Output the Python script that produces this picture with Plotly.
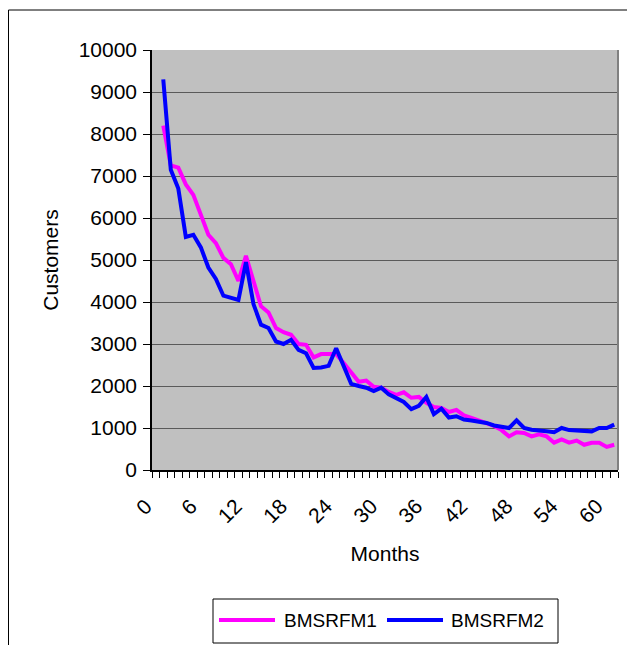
import plotly.graph_objects as go

months = list(range(1, 62))
bmsrfm1 = [8200, 7250, 7200, 6800, 6550, 6100, 5600, 5400, 5050, 4900,
           4500, 5100, 4500, 3900, 3750, 3380, 3280, 3220, 3000, 2980,
           2680, 2760, 2760, 2760, 2550, 2330, 2100, 2130, 1980, 1960,
           1860, 1790, 1850, 1720, 1740, 1600, 1500, 1480, 1380, 1430,
           1300, 1240, 1180, 1130, 1050, 950, 800, 900, 880, 800,
           850, 800, 650, 730, 650, 700, 600, 650, 650, 550,
           600]
bmsrfm2 = [9300, 7150, 6700, 5550, 5600, 5300, 4820, 4550, 4150, 4100,
           4050, 4950, 3950, 3460, 3380, 3060, 3000, 3100, 2860, 2780,
           2430, 2440, 2480, 2900, 2450, 2050, 2000, 1960, 1880, 1960,
           1800, 1700, 1620, 1450, 1530, 1740, 1330, 1460, 1250, 1280,
           1200, 1180, 1150, 1120, 1060, 1020, 1000, 1180, 1000, 960,
           950, 920, 900, 1000, 950, 940, 940, 920, 1000, 1000,
           1080]
series_names = ["BMSRFM1", "BMSRFM2"]
series_colors = ["#FF00FF", "#0000FF"]
n_categories = 62
x_ticks = list(range(0, 61, 6))
y_ticks = list(range(0, 10001, 1000))

FONT = "Liberation Sans, Arial, sans-serif"

fig = go.Figure()
for name, color, vals in zip(series_names, series_colors, [bmsrfm1, bmsrfm2]):
    fig.add_trace(go.Scatter(x=months, y=vals, mode="lines", name=name,
                             line=dict(color=color, width=4), showlegend=False))

# page body has an 8px margin; figure coordinates = screen - 8
W, H = 627, 637
L, R, T, B = 144, 17, 42, 175
pw, ph = W - L - R, H - T - B

def px_x(p):
    return (p - L) / pw

def px_y(p):
    return (H - B - p) / ph

# custom legend (Excel-style long line samples)
leg_box = dict(x0=205, x1=550, y0=591, y1=635)
leg_line_x = [(211, 267), (379, 435)]
leg_text_x = [274, 441]
leg_y = 612

shapes = [
    dict(type="line", xref="paper", yref="paper", x0=1, x1=1, y0=0, y1=1,
         line=dict(color="#808080", width=2)),
    dict(type="rect", xref="paper", yref="paper",
         x0=px_x(0.5), x1=px_x(620), y0=px_y(2), y1=px_y(660),
         line=dict(color="black", width=1), layer="below"),
    dict(type="rect", xref="paper", yref="paper",
         x0=px_x(leg_box["x0"]), x1=px_x(leg_box["x1"]),
         y0=px_y(leg_box["y0"]), y1=px_y(leg_box["y1"]),
         line=dict(color="black", width=1), fillcolor="white", layer="below"),
]
annotations = []
for (lx0, lx1), tx, name, color in zip(leg_line_x, leg_text_x, series_names, series_colors):
    shapes.append(dict(type="line", xref="paper", yref="paper",
                       x0=px_x(lx0), x1=px_x(lx1), y0=px_y(leg_y), y1=px_y(leg_y),
                       line=dict(color=color, width=4)))
    annotations.append(dict(text=name, xref="paper", yref="paper",
                            x=px_x(tx), y=px_y(leg_y), xanchor="left", yanchor="middle",
                            showarrow=False, font=dict(size=19, family=FONT, color="black")))

fig.update_layout(
    width=W, height=H,
    margin=dict(l=L, r=R, t=T, b=B, pad=0),
    paper_bgcolor="white",
    plot_bgcolor="#C0C0C0",
    font=dict(family=FONT, size=20, color="black"),
    showlegend=False,
    xaxis=dict(range=[-0.5, n_categories - 0.5], tickmode="array", tickvals=x_ticks,
               ticktext=[str(v) for v in x_ticks], tickangle=-45, ticks="",
               ticklabelshift=-10, ticklabelstandoff=14,
               showgrid=False, zeroline=False, showline=True, linecolor="black", linewidth=1.5,
               tickfont=dict(size=21),
               minor=dict(tickmode="array", tickvals=[i - 0.5 for i in range(n_categories + 1)],
                          ticks="outside", ticklen=6, tickcolor="black", tickwidth=1, showgrid=False),
               title=dict(text="Months", font=dict(size=21), standoff=20)),
    yaxis=dict(range=[0, 10000], tickmode="array", tickvals=y_ticks,
               ticktext=[str(v) for v in y_ticks],
               ticks="outside", ticklen=7, tickcolor="black", tickwidth=1,
               ticklabelstandoff=2,
               showgrid=True, gridcolor="#5a5a5a", gridwidth=1.3, zeroline=False,
               showline=True, linecolor="black", linewidth=1.5,
               tickfont=dict(size=21),
               title=dict(text="Customers", font=dict(size=21), standoff=14)),
    shapes=shapes,
    annotations=annotations,
)

fig.write_html("out.html")
